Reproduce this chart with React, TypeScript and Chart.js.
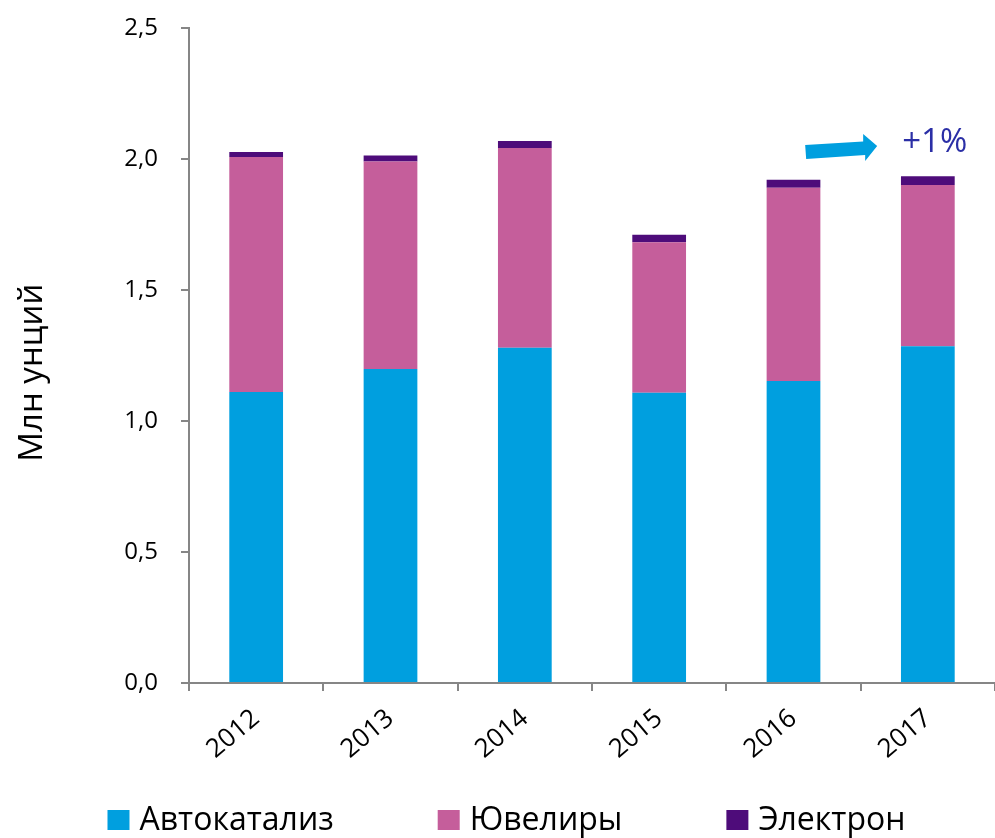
import React, { useEffect, useRef } from "react";
import { Chart, registerables } from "chart.js";

Chart.register(...registerables);

const years = ["2012", "2013", "2014", "2015", "2016", "2017"];
const autocatalysis = [1.111, 1.198, 1.28, 1.108, 1.153, 1.285];
const jewellery = [0.897, 0.792, 0.762, 0.574, 0.737, 0.616];
const electronics = [0.019, 0.023, 0.027, 0.029, 0.031, 0.033];
const seriesNames = ["Автокатализ", "Ювелиры", "Электрон"];
const seriesColors = ["#009FDF", "#C55E9B", "#4E0C7A"];
const yTickValues = [0, 0.5, 1, 1.5, 2, 2.5];
const yTitle = "Млн унций";
const changeLabel = "+1%";
const FONT = '"Open Sans", "Noto Sans", sans-serif';
const AXIS_COLOR = "#868686";

const legendPlugin = {
  id: "customLegend",
  afterDraw(chart: any) {
    const ctx = chart.ctx;
    ctx.save();
    ctx.font = `32px ${FONT}`;
    const box = 22;
    const gapBoxText = 10;
    const gapItems = 104;
    const widths = seriesNames.map((n) => box + gapBoxText + ctx.measureText(n).width);
    const total = widths.reduce((a, b) => a + b, 0) + gapItems * (widths.length - 1);
    let x = chart.width / 2 + 9 - total / 2;
    const cy = 820;
    ctx.textBaseline = "middle";
    ctx.textAlign = "left";
    seriesNames.forEach((n, i) => {
      ctx.fillStyle = seriesColors[i];
      ctx.fillRect(x, cy - 10, box, 20);
      ctx.fillStyle = "#000";
      ctx.fillText(n, x + box + gapBoxText, cy + 1);
      x += widths[i] + gapItems;
    });
    ctx.restore();
  },
};

const arrowPlugin = {
  id: "changeArrow",
  afterDatasetsDraw(chart: any) {
    const ctx = chart.ctx;
    const xs = chart.scales.x;
    const ys = chart.scales.y;
    const ax = xs.getPixelForValue(4.5);
    const ay = ys.getPixelForValue(2.0);
    const pts: [number, number][] = [
      [-55.5, -14],
      [2.5, -17.5],
      [2.5, -25],
      [16.5, -13],
      [4.5, 2],
      [4.5, -4],
      [-54.5, 0],
    ];
    ctx.save();
    ctx.fillStyle = seriesColors[0];
    ctx.beginPath();
    pts.forEach(([dx, dy], i) => {
      if (i === 0) ctx.moveTo(ax + dx, ay + dy);
      else ctx.lineTo(ax + dx, ay + dy);
    });
    ctx.closePath();
    ctx.fill();
    ctx.font = `33px ${FONT}`;
    ctx.fillStyle = "#2B2FA6";
    ctx.textAlign = "center";
    ctx.textBaseline = "middle";
    ctx.fillText(changeLabel, ax + 74, ay - 16);
    ctx.restore();
  },
};

export default function App() {
  const ref = useRef<HTMLCanvasElement>(null);
  useEffect(() => {
    document.body.style.margin = "0";
    const canvas = ref.current!;
    const chart = new Chart(canvas, {
      type: "bar",
      data: {
        labels: years,
        datasets: [
          { label: seriesNames[0], data: autocatalysis, backgroundColor: seriesColors[0] },
          { label: seriesNames[1], data: jewellery, backgroundColor: seriesColors[1] },
          { label: seriesNames[2], data: electronics, backgroundColor: seriesColors[2] },
        ],
      },
      options: {
        animation: false,
        responsive: false,
        devicePixelRatio: 1,
        datasets: { bar: { barPercentage: 0.4, categoryPercentage: 1.0 } },
        layout: { padding: { top: 28, bottom: 70, left: 0, right: 0 } },
        plugins: { legend: { display: false }, tooltip: { enabled: false } },
        scales: {
          x: {
            stacked: true,
            afterFit: (s: any) => {
              s.height = 85;
              s.paddingLeft = 0;
              s.paddingRight = 0;
            },
            grid: {
              offset: true,
              drawOnChartArea: false,
              drawTicks: true,
              tickLength: 8,
              color: AXIS_COLOR,
              lineWidth: 2,
            },
            border: { color: AXIS_COLOR, width: 2 },
            ticks: {
              minRotation: 40,
              maxRotation: 40,
              padding: 12,
              color: "#000",
              font: { family: FONT, size: 26 },
            },
          },
          y: {
            stacked: true,
            min: 0,
            max: 2.5,
            afterFit: (s: any) => {
              s.width = 189;
              s.paddingTop = 0;
              s.paddingBottom = 0;
            },
            afterBuildTicks: (s: any) => {
              s.ticks = yTickValues.map((v) => ({ value: v }));
            },
            grid: {
              drawOnChartArea: false,
              drawTicks: true,
              tickLength: 8,
              color: AXIS_COLOR,
              lineWidth: 2,
            },
            border: { color: AXIS_COLOR, width: 2 },
            ticks: {
              padding: 23,
              color: "#000",
              font: { family: FONT, size: 24 },
              callback: (v: any) => Number(v).toFixed(1).replace(".", ","),
            },
            title: {
              display: true,
              text: yTitle + "    ",
              color: "#000",
              font: { family: FONT, size: 33 },
              padding: { top: 13, bottom: 0 },
            },
          },
        },
      },
      plugins: [arrowPlugin, legendPlugin],
    });
    return () => chart.destroy();
  }, []);
  return (
    <div style={{ width: 995, height: 838 }}>
      <canvas ref={ref} width={995} height={838} />
    </div>
  );
}
